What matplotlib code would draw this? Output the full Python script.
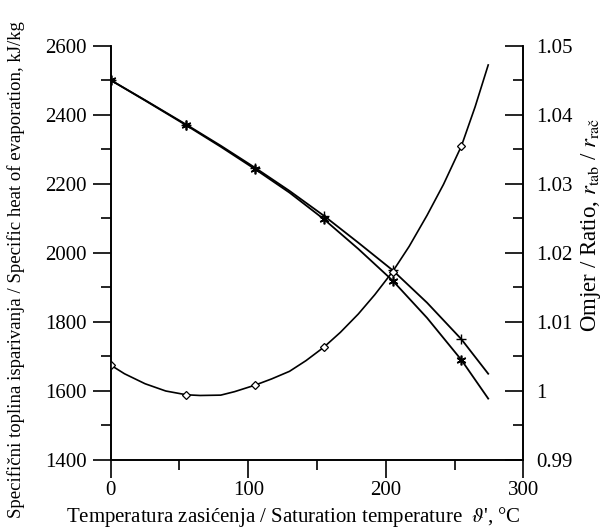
import matplotlib
matplotlib.use("Agg")
import matplotlib.pyplot as plt
from matplotlib.ticker import MultipleLocator

plt.rcParams['font.family'] = ['Liberation Serif', 'DejaVu Serif']
plt.rcParams['mathtext.fontset'] = 'stix'

# temperatura zasicenja, degC (krivulje topline)
t = [0, 25, 55, 80, 105, 130, 155, 180, 205, 230, 255, 274.5]
mark_idx = [0, 2, 4, 6, 8, 10]          # tocke 0, 55, 105, 155, 205, 255

# specificna toplina isparivanja, kJ/kg
r_tab = [2501, 2442, 2370, 2308, 2243, 2175, 2098, 2012, 1920, 1812, 1690, 1578]
r_rac = [2501, 2443, 2372, 2311, 2247, 2180, 2108, 2030, 1950, 1856, 1750, 1650]

# omjer r_tab / r_rac
t_ratio = [0, 10, 25, 40, 55, 65, 80, 90, 105, 117, 130, 142, 155, 167, 180,
           192, 205, 217, 230, 242, 255, 265, 274.5]
ratio = [1.00375, 1.0025, 1.00105, 1.0, 0.99945, 0.99935, 0.9994, 0.9999,
         1.00085, 1.00175, 1.00285, 1.0044, 1.00635, 1.0085, 1.01115, 1.01395,
         1.0173, 1.02095, 1.02545, 1.02995, 1.0355, 1.0412, 1.04725]
ratio_mark_idx = [0, 4, 8, 12, 16, 20]

fig = plt.figure(figsize=(6.06, 5.28), dpi=100)
ax = fig.add_axes([0.1827, 0.1288, 0.8635 - 0.1827, 0.9129 - 0.1288])
ax2 = ax.twinx()

ax.plot(t, r_rac, color='black', lw=1.3, marker='+', ms=7, mew=1.0,
        markevery=mark_idx)
ax.plot(t, r_tab, color='black', lw=1.3, marker=(6, 2, 0), ms=7, mew=1.2,
        markevery=mark_idx)
ax2.plot(t_ratio, ratio, color='black', lw=1.2, marker='D', ms=4, mew=0.9,
         mfc='white', markevery=ratio_mark_idx)

ax.set_xlim(0, 300)
ax.set_ylim(1400, 2600)
ax2.set_ylim(0.99, 1.05)

ax.xaxis.set_major_locator(MultipleLocator(100))
ax.xaxis.set_minor_locator(MultipleLocator(50))
ax.yaxis.set_major_locator(MultipleLocator(200))
ax.yaxis.set_minor_locator(MultipleLocator(100))
ax2.yaxis.set_minor_locator(MultipleLocator(0.005))
ax2.set_yticks([0.99, 1.0, 1.01, 1.02, 1.03, 1.04, 1.05])
ax2.set_yticklabels(['0.99', '1', '1.01', '1.02', '1.03', '1.04', '1.05'])

for a in (ax, ax2):
    a.spines['top'].set_visible(False)
    for s in a.spines.values():
        s.set_linewidth(1.2)

ax.tick_params(axis='both', which='major', direction='out', length=13,
               width=1.2, labelsize=15, pad=4)
ax.tick_params(axis='both', which='minor', direction='out', length=7, width=1.2)
ax.tick_params(axis='x', which='major', pad=2)
ax2.tick_params(axis='y', which='major', direction='in', length=13, width=1.2,
                labelsize=15, pad=9)
ax2.tick_params(axis='y', which='minor', direction='in', length=7, width=1.2)

ax.set_xlabel("Temperatura zasićenja / Saturation temperature  $\\vartheta$', °C",
              fontsize=15)
ax.set_ylabel("Specifični toplina isparivanja / Specific heat of evaporation, kJ/kg",
              fontsize=13.5)
ax2.set_ylabel("Omjer / Ratio, $r_{\\mathrm{tab}}$ / $r_{\\mathrm{rač}}$",
               fontsize=16.5)
ax.xaxis.set_label_coords(0.443, -0.108)
ax.yaxis.set_label_coords(-0.208, 0.459)
ax2.yaxis.set_label_coords(1.135, 0.568)

fig.savefig("out.png", dpi=100)
